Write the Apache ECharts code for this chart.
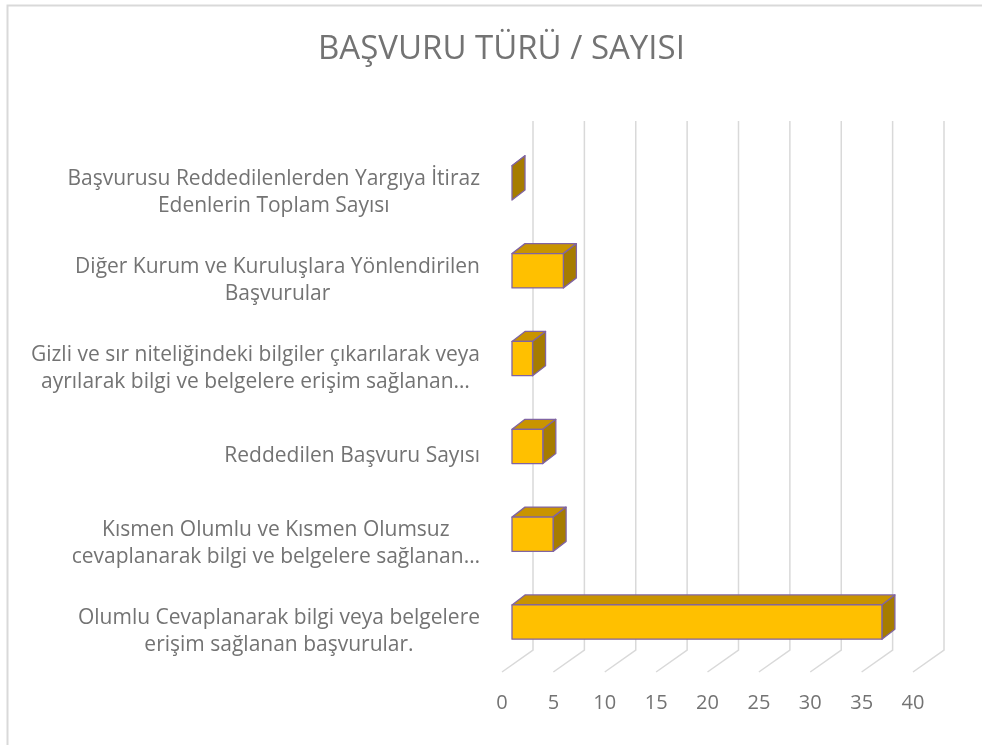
<!DOCTYPE html>
<html>
<head>
<meta charset="utf-8">
<script src="https://cdn.jsdelivr.net/npm/echarts@6/dist/echarts.min.js"></script>
<style>
  html, body { margin: 0; padding: 0; background: #fff; }
  #chart { width: 982px; height: 745px; }
</style>
</head>
<body>
<div id="chart"></div>
<script>
// kategoriler (alttan üste)
var categories = [
  'Olumlu Cevaplanarak bilgi veya belgelere\nerişim sağlanan başvurular.',
  'Kısmen Olumlu ve Kısmen Olumsuz\ncevaplanarak bilgi ve belgelere sağlanan…',
  'Reddedilen Başvuru Sayısı',
  'Gizli ve sır niteliğindeki bilgiler çıkarılarak veya\nayrılarak bilgi ve belgelere erişim sağlanan…',
  'Diğer Kurum ve Kuruluşlara Yönlendirilen\nBaşvurular',
  'Başvurusu Reddedilenlerden Yargıya İtiraz\nEdenlerin Toplam Sayısı'
];
var values = [36, 4, 3, 2, 5, 0];
var xTicks = [0, 5, 10, 15, 20, 25, 30, 35, 40];

var textColor = '#737373';
var fontFamily = '"Open Sans", "Noto Sans", sans-serif';

// 3B görünüm için kaydırmalar (piksel)
var wallShift = [31, -22];   // ön düzlem -> arka duvar
var barShift = [10, -6];     // ön düzlem -> çubuğun ön yüzü
var barDepth = [13, -10];    // çubuğun derinliği

var chart = echarts.init(document.getElementById('chart'));

function renderGrid(params, api) {
  var cs = params.coordSys;
  var x = api.coord([api.value(0), 0])[0];
  var bottom = cs.y + cs.height;
  return {
    type: 'polyline',
    shape: {
      points: [
        [x + wallShift[0], cs.y + wallShift[1] - 2],
        [x + wallShift[0], bottom + wallShift[1]],
        [x, bottom]
      ]
    },
    style: { stroke: '#d9d9d9', lineWidth: 1.5, fill: null }
  };
}

function renderBar(params, api) {
  var idx = api.value(0);
  var v = api.value(1);
  var p0 = api.coord([0, idx]);
  var p1 = api.coord([v, idx]);
  var h = api.size([0, 1])[1] * 0.39;
  var xl = p0[0] + barShift[0];
  var xr = p1[0] + barShift[0];
  var yt = p0[1] + barShift[1] - h / 2;
  var yb = yt + h;
  var dx = barDepth[0], dy = barDepth[1];
  var line = { stroke: '#8064a2', lineWidth: 1.3, lineJoin: 'round' };
  return {
    type: 'group',
    children: [
      {
        type: 'polygon',
        shape: { points: [[xl, yt], [xr, yt], [xr + dx, yt + dy], [xl + dx, yt + dy]] },
        style: Object.assign({ fill: '#c99400' }, line)
      },
      {
        type: 'polygon',
        shape: { points: [[xr, yt], [xr + dx, yt + dy], [xr + dx, yb + dy], [xr, yb]] },
        style: Object.assign({ fill: '#a67c00' }, line)
      },
      {
        type: 'rect',
        shape: { x: xl, y: yt, width: xr - xl, height: h },
        style: Object.assign({ fill: '#ffc000' }, line),
        invisible: v === 0
      }
    ]
  };
}

var option = {
  backgroundColor: '#fff',
  animation: false,
  title: {
    text: 'BAŞVURU TÜRÜ / SAYISI',
    left: 313,
    top: 28,
    textStyle: { color: textColor, fontSize: 33, fontWeight: 'normal', fontFamily: fontFamily }
  },
  graphic: [{
    type: 'rect',
    shape: { x: 7.5, y: 5.5, width: 1100, height: 900 },
    style: { fill: null, stroke: '#d9d9d9', lineWidth: 2 },
    silent: true
  }],
  grid: { left: 502, right: 69, top: 145, bottom: 73 },
  xAxis: {
    type: 'value',
    min: 0,
    max: 40,
    interval: 5,
    axisLine: { show: false },
    axisTick: { show: false },
    splitLine: { show: false },
    axisLabel: { color: textColor, fontSize: 20, margin: 21, fontFamily: fontFamily }
  },
  yAxis: {
    type: 'category',
    data: categories,
    axisLine: { show: false },
    axisTick: { show: false },
    axisLabel: {
      margin: 22,
      align: 'right',
      padding: [7, 0, 0, 0],
      color: textColor,
      fontSize: 21,
      fontFamily: fontFamily,
      formatter: function (s) {
        return s.split('\n').map(function (l) { return '{c|' + l + '}'; }).join('\n');
      },
      rich: {
        c: { align: 'center', color: textColor, fontSize: 21, lineHeight: 27, fontFamily: fontFamily }
      }
    }
  },
  series: [
    {
      type: 'custom',
      renderItem: renderGrid,
      data: xTicks.map(function (t) { return [t]; }),
      encode: { x: 0 },
      silent: true,
      z: 1
    },
    {
      type: 'custom',
      renderItem: renderBar,
      data: values.map(function (v, i) { return [i, v]; }),
      encode: { y: 0, x: 1 },
      z: 5
    }
  ]
};

chart.setOption(option);
</script>
</body>
</html>
